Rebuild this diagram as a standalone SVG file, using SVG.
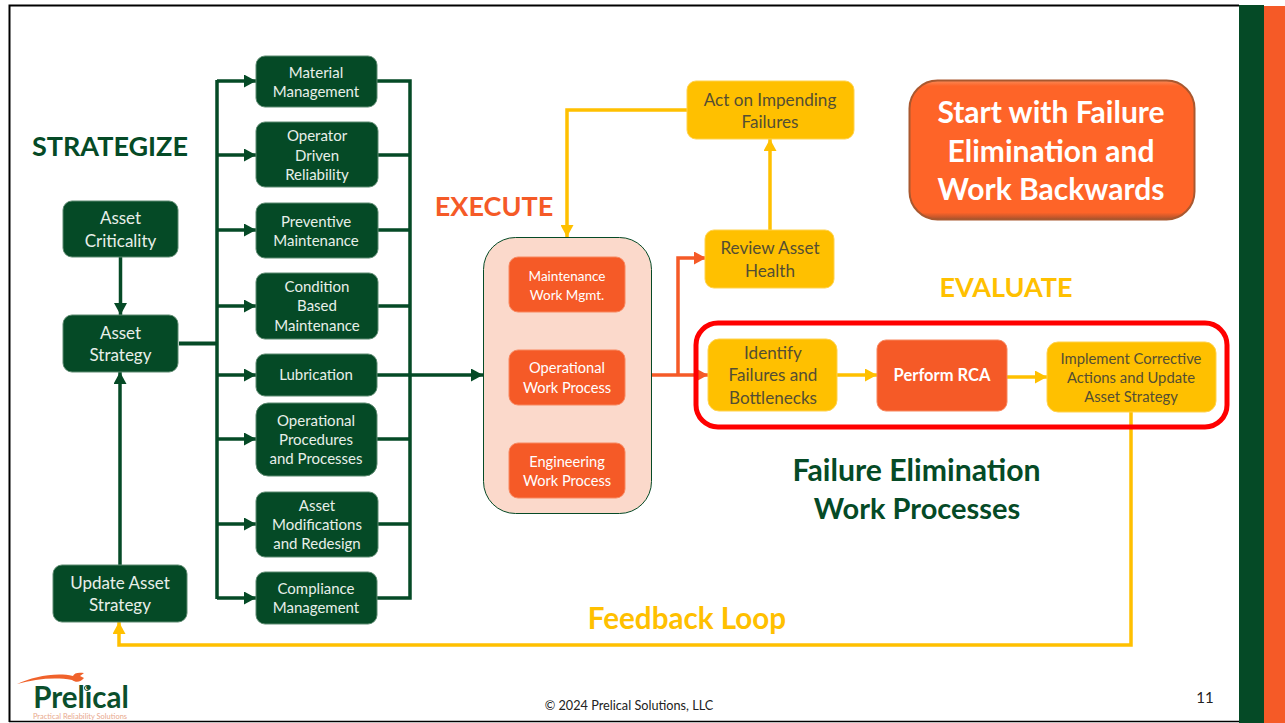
<svg xmlns="http://www.w3.org/2000/svg" width="1285" height="723" viewBox="0 0 1285 723">
<style>
text{font-family:Lato,"Open Sans","Liberation Sans",sans-serif;text-anchor:middle}
.g rect{fill:#054a26;stroke:#5d8a70;stroke-width:1}
.g text{fill:#e8efe9;font-size:15px}
.g .b{font-size:17px}
.o rect{fill:#f55a27;stroke:#f8875f;stroke-width:1}
.o text{fill:#fff;font-size:14.600px}
.y rect{fill:#ffc000;stroke:#ffd24d;stroke-width:1}
.y text{fill:#544e33;font-size:17.100px}
.h{font-weight:700;font-size:27px}
.l{font-weight:700;font-size:29.600px}
.cg,.cy,.co{fill:none;stroke-linejoin:miter;stroke-width:3.500}
.cg{stroke:#054a26}
.cy{stroke:#ffc000}
.co{stroke:#f55a27}
</style>
<defs>
<marker id="ag" markerUnits="userSpaceOnUse" markerWidth="13" markerHeight="13" refX="12" refY="6.500" orient="auto"><path d="M0 0L12 6.500L0 13z" fill="#054a26"/></marker>
<marker id="ay" markerUnits="userSpaceOnUse" markerWidth="13" markerHeight="13" refX="12" refY="6.500" orient="auto"><path d="M0 0L12 6.500L0 13z" fill="#ffc000"/></marker>
<marker id="ao" markerUnits="userSpaceOnUse" markerWidth="13" markerHeight="13" refX="12" refY="6.500" orient="auto"><path d="M0 0L12 6.500L0 13z" fill="#f55a27"/></marker>
<linearGradient id="btn" x1="0" y1="0" x2="0" y2="1"><stop offset="0" stop-color="#f98a58"/><stop offset=".04" stop-color="#fe6428"/><stop offset=".95" stop-color="#fe6428"/><stop offset="1" stop-color="#a9512c"/></linearGradient>
</defs>
<rect width="1285" height="723" fill="#fff"/>
<g id="frame">
<path d="M9.500 722V5.500H1239" fill="none" stroke="#000" stroke-width="2"/>
<path d="M9 721.500H1239" stroke="#000" stroke-width="1.500"/>
<rect x="1239" y="5" width="25" height="718" fill="#054a26"/>
<rect x="1264" y="6" width="21" height="717" fill="#f55a27"/>
</g>
<g id="connectors">
<path class="cg" marker-end="url(#ag)" d="M120.500 257V315"/>
<path class="cg" marker-end="url(#ag)" d="M120 566V372"/>
<path class="cg" style="stroke-width:4" d="M179 343.500H217"/>
<path class="cg" d="M217 599V80"/>
<path class="cg" marker-end="url(#ag)" d="M217 81H256"/>
<path class="cg" marker-end="url(#ag)" d="M217 155H256"/>
<path class="cg" marker-end="url(#ag)" d="M217 230H256"/>
<path class="cg" marker-end="url(#ag)" d="M217 306H256"/>
<path class="cg" marker-end="url(#ag)" d="M217 375H256"/>
<path class="cg" marker-end="url(#ag)" d="M217 439H256"/>
<path class="cg" marker-end="url(#ag)" d="M217 524H256"/>
<path class="cg" marker-end="url(#ag)" d="M217 598H256"/>
<path class="cg" d="M377 81H410V598H377M378 155H410M378 230H410M378 306H410M377 439H410M378 524H410"/>
<path class="cg" marker-end="url(#ag)" d="M377 375H483"/>
<path class="co" marker-end="url(#ao)" d="M652 375H708"/>
<path class="co" marker-end="url(#ao)" d="M678 375V258H706"/>
<path class="cy" marker-end="url(#ay)" d="M837 375H877"/>
<path class="cy" marker-end="url(#ay)" d="M1007 377H1047"/>
<path class="cy" marker-end="url(#ay)" d="M770 231V139"/>
<path class="cy" marker-end="url(#ay)" d="M688 110H567V237"/>
<path class="cy" marker-end="url(#ay)" d="M1131 412V645H119V622"/>
</g>
<rect id="evaluate-box" x="696" y="323" width="531" height="104" rx="22" fill="none" stroke="#f00" stroke-width="5"/>
<g id="asset-criticality" class="g"><rect x="63" y="201" width="115" height="56" rx="9"/><text class="b" x="120.500" y="224">Asset</text><text class="b" x="120.500" y="247">Criticality</text></g>
<g id="asset-strategy" class="g"><rect x="63" y="315" width="115" height="57" rx="9"/><text class="b" x="120.500" y="339">Asset</text><text class="b" x="120.500" y="361">Strategy</text></g>
<g id="update-asset-strategy" class="g"><rect x="53" y="565" width="134" height="57" rx="9"/><text class="b" x="120" y="589">Update Asset</text><text class="b" x="120" y="611">Strategy</text></g>
<g id="material-management" class="g"><rect x="256" y="56" width="121" height="51" rx="9"/><text x="316" y="78">Material</text><text x="316" y="97">Management</text></g>
<g id="operator-driven-reliability" class="g"><rect x="256" y="122" width="122" height="65" rx="9"/><text x="317" y="141">Operator</text><text x="317" y="161">Driven</text><text x="317" y="180">Reliability</text></g>
<g id="preventive-maintenance" class="g"><rect x="256" y="203" width="122" height="55" rx="9"/><text x="316" y="227">Preventive</text><text x="316" y="246">Maintenance</text></g>
<g id="condition-based-maintenance" class="g"><rect x="256" y="273" width="122" height="66" rx="9"/><text x="317" y="292">Condition</text><text x="317" y="311">Based</text><text x="317" y="331">Maintenance</text></g>
<g id="lubrication" class="g"><rect x="256" y="354" width="121" height="42" rx="9"/><text x="316" y="380">Lubrication</text></g>
<g id="operational-procedures" class="g"><rect x="256" y="403" width="121" height="73" rx="12"/><text x="316" y="426">Operational</text><text x="316" y="445">Procedures</text><text x="316" y="464">and Processes</text></g>
<g id="asset-modifications" class="g"><rect x="256" y="492" width="122" height="65" rx="9"/><text x="317" y="511">Asset</text><text x="317" y="530">Modifications</text><text x="317" y="549">and Redesign</text></g>
<g id="compliance-management" class="g"><rect x="256" y="572" width="121" height="52" rx="9"/><text x="316" y="594">Compliance</text><text x="316" y="613">Management</text></g>
<g id="execute-container"><rect x="483.500" y="237.500" width="168" height="276" rx="32" fill="#fbd9cb" stroke="#054a26" stroke-width="1"/></g>
<g id="maintenance-work" class="o"><rect x="509" y="257" width="116" height="55" rx="9"/><text x="567" y="281" style="font-size:13.500px">Maintenance</text><text x="567" y="300" style="font-size:13.500px">Work Mgmt.</text></g>
<g id="operational-work" class="o"><rect x="509" y="350" width="116" height="55" rx="9"/><text x="567" y="373">Operational</text><text x="567" y="393">Work Process</text></g>
<g id="engineering-work" class="o"><rect x="509" y="443" width="116" height="55" rx="9"/><text x="567" y="467">Engineering</text><text x="567" y="486">Work Process</text></g>
<g id="act-on-failures" class="y"><rect x="687" y="81" width="167" height="58" rx="9"/><text x="770" y="106">Act on Impending</text><text x="770" y="128">Failures</text></g>
<g id="review-asset-health" class="y"><rect x="705" y="230" width="129" height="58" rx="9"/><text x="770" y="254">Review Asset</text><text x="770" y="277">Health</text></g>
<g id="identify-failures" class="y"><rect x="708" y="339" width="129" height="72" rx="11"/><text x="773" y="359">Identify</text><text x="773" y="381">Failures and</text><text x="773" y="404">Bottlenecks</text></g>
<g id="perform-rca" class="o"><rect x="877" y="340" width="130" height="71" rx="9"/><text x="942" y="381" style="font-size:16.500px;font-weight:700">Perform RCA</text></g>
<g id="implement-corrective" class="y"><rect x="1047" y="342" width="169" height="70" rx="11"/><text x="1131" y="364" style="font-size:14.800px">Implement Corrective</text><text x="1131" y="383" style="font-size:14.800px">Actions and Update</text><text x="1131" y="402" style="font-size:14.800px">Asset Strategy</text></g>
<g id="start-callout"><rect x="909.500" y="80.500" width="285" height="139" rx="28" fill="url(#btn)" stroke="#a9582f" stroke-width="2"/><g fill="#fff" font-weight="700" font-size="30"><text x="1051" y="123">Start with Failure</text><text x="1051" y="162">Elimination and</text><text x="1051" y="200">Work Backwards</text></g></g>
<g id="labels">
<text class="h" x="110" y="156" fill="#054a26">STRATEGIZE</text>
<text class="h" x="494" y="216" fill="#f55a27">EXECUTE</text>
<text class="h" x="1006" y="297" fill="#ffc000">EVALUATE</text>
<text class="l" x="916.500" y="481" fill="#054a26" style="font-size:30.200px">Failure Elimination</text>
<text class="l" x="917" y="519" fill="#054a26" style="font-size:29px">Work Processes</text>
<text class="l" x="687" y="629" fill="#ffc000">Feedback Loop</text>
<text x="629" y="710" font-size="12.700" fill="#222">© 2024 Prelical Solutions, LLC</text>
<text x="1205" y="703" font-size="15" fill="#222">11</text>
</g>
<g id="logo">
<path d="M17 684C33 677 55 672 73 676C74 673 78 672 84 673L80 676L84 678C81 682 76 683 72 680C55 677 35 679 17 684z" fill="#f0622b"/>
<circle cx="87" cy="688" r="2.500" fill="none" stroke="#0b4f2c"/>
<text x="81" y="708" font-size="29.500" font-weight="700" fill="#0b4f2c">Prelical</text>
<text x="80" y="719" font-size="7.500" fill="#e9a98e">Practical Reliability Solutions</text>
</g>
</svg>
